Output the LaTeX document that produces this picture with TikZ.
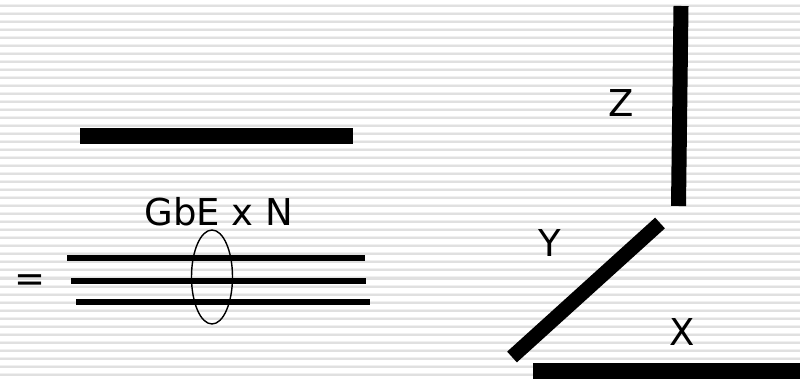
\documentclass[tikz,border=0pt]{standalone}
\usepackage{fontspec}
\setmainfont{DejaVu Sans}
\begin{document}
\begin{tikzpicture}[x=1pt,y=-1pt,
  lbl/.style={font=\fontsize{37}{40}\selectfont, inner sep=0pt, anchor=center},
  bar/.style={line width=#1, line cap=butt},
  stripe/.style={draw=none, fill=gray!22}]
\useasboundingbox (0,0) rectangle (800,379);
% background stripes
\fill[white] (0,0) rectangle (800,379);
\foreach \k in {0,...,47} {
  \fill[gray!12] (0,{4.5+8*\k}) rectangle (800,{5.5+8*\k});
  \fill[gray!24] (0,{5.5+8*\k}) rectangle (800,{7.5+8*\k});
}
% top-left bar
\draw[bar=16pt] (80,136) -- (353,136);
% GbE x N
\node[lbl] (gbe) at (219,212) {GbE x N};
% three links
\draw[bar=6pt] (67,258) -- (365,258);
\draw[bar=6pt] (71,281) -- (366,281);
\draw[bar=6pt] (76,302) -- (370,302);
% ellipse
\draw[line width=1.4pt] (212,277) ellipse [x radius=20.5, y radius=47];
% equals
\node[lbl] (eq) at (30,283) {=};
% Z bar
\draw[bar=15pt] (681,6) -- (678.5,206);
\node[lbl] (z) at (621,103) {Z};
% Y bar
\draw[bar=14.5pt] (512,357) -- (660,223);
\node[lbl] (y) at (550,243) {Y};
% X bar
\draw[bar=16pt] (533,371) -- (800,371);
\node[lbl] (xl) at (682,332) {X};
\end{tikzpicture}
\end{document}
